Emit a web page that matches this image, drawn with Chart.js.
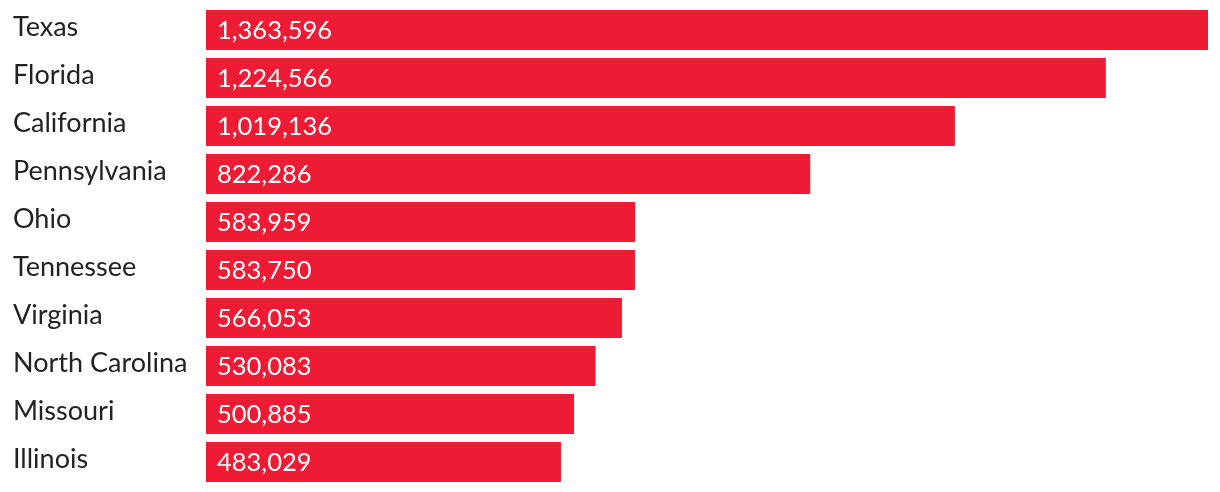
<!DOCTYPE html>
<html>
<head>
<meta charset="utf-8">
<script src="https://cdn.jsdelivr.net/npm/chart.js@4/dist/chart.umd.min.js"></script>
<style>
  html, body { margin: 0; padding: 0; background: #fff; }
  #wrap { width: 1220px; height: 492px; position: relative; }
</style>
</head>
<body>
<div id="wrap"><canvas id="chart"></canvas></div>
<script>
const states = ['Texas', 'Florida', 'California', 'Pennsylvania', 'Ohio', 'Tennessee', 'Virginia', 'North Carolina', 'Missouri', 'Illinois'];
const counts = [1363596, 1224566, 1019136, 822286, 583959, 583750, 566053, 530083, 500885, 483029];

const barRed = '#ed1b33';
const fontFamily = 'Lato, "Open Sans", sans-serif';

// white value text inside the left end of each bar
const valueLabels = {
    id: 'valueLabels',
    afterDatasetsDraw(chart) {
        const ctx = chart.ctx;
        const meta = chart.getDatasetMeta(0);
        ctx.save();
        ctx.fillStyle = '#ffffff';
        ctx.font = '25.5px ' + fontFamily;
        ctx.textAlign = 'left';
        ctx.textBaseline = 'middle';
        meta.data.forEach((bar, i) => {
            ctx.fillText(counts[i].toLocaleString('en-US'), bar.base + 11, bar.y + 1);
        });
        ctx.restore();
    }
};

const ctx = document.getElementById('chart').getContext('2d');
new Chart(ctx, {
    type: 'bar',
    data: {
        labels: states,
        datasets: [{
            data: counts,
            backgroundColor: barRed,
            borderWidth: 0,
            barPercentage: 1,
            categoryPercentage: 40 / 48
        }]
    },
    options: {
        indexAxis: 'y',
        responsive: true,
        maintainAspectRatio: false,
        animation: false,
        layout: {
            padding: { left: 13, right: 12, top: 6, bottom: 6 }
        },
        plugins: {
            legend: { display: false },
            tooltip: { enabled: false }
        },
        scales: {
            x: {
                display: false,
                min: 0,
                max: Math.max(...counts)
            },
            y: {
                grid: { display: false },
                border: { display: false },
                ticks: {
                    crossAlign: 'far',
                    color: '#222222',
                    font: { family: fontFamily, size: 27 },
                    padding: 0,
                    labelOffset: -3
                },
                afterFit(scale) {
                    scale.width = 193;
                    scale.paddingTop = 0;
                    scale.paddingBottom = 0;
                }
            }
        }
    },
    plugins: [valueLabels]
});
</script>
</body>
</html>
